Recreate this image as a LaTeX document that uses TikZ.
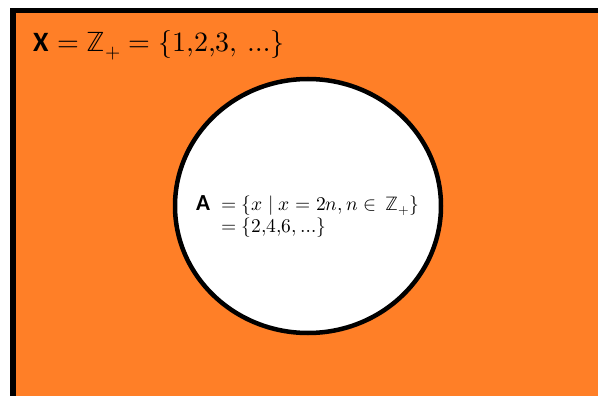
\documentclass[tikz,border=0pt]{standalone}
\usepackage{fontspec}
\usepackage{unicode-math}
\newfontfamily\calfont{Carlito}
\definecolor{paintorange}{RGB}{255,127,39}
\tikzset{
  border/.style={line width=5.5pt, line cap=butt},
  setcircle/.style={line width=4.5pt, draw=black, fill=white},
  bigtext/.style={anchor=base west, inner sep=0pt, font=\fontsize{28}{32}\selectfont},
  smalltext/.style={anchor=base west, inner sep=0pt, font=\fontsize{19.5}{23}\selectfont},
}
\begin{document}
\begin{tikzpicture}[x=1pt,y=-1pt]
\useasboundingbox (0,0) rectangle (598,396);
\fill[white] (0,0) rectangle (598,396);
\fill[paintorange] (13,10.5) rectangle (605,405);
\draw[border] (13,405) -- (13,10.5) -- (605,10.5);
\draw[setcircle] (308,206) ellipse [x radius=133, y radius=127];
\node[bigtext] (X) at (33,52) {{\calfont\bfseries X} $=\mathbb{Z}_{+}=\{1{,}2{,}3,\,\ldots\}$};
\node[bigtext, font=\fontsize{23}{27}\selectfont] (A) at (196,210) {\calfont\bfseries A};
\node[smalltext] (l1) at (221,210) {$=\{x\mid x=2n,n\in\,\mathbb{Z}_{+}\}$};
\node[smalltext] (l2) at (221,233) {$=\{2{,}4{,}6{,}\ldots\}$};
\end{tikzpicture}
\end{document}
